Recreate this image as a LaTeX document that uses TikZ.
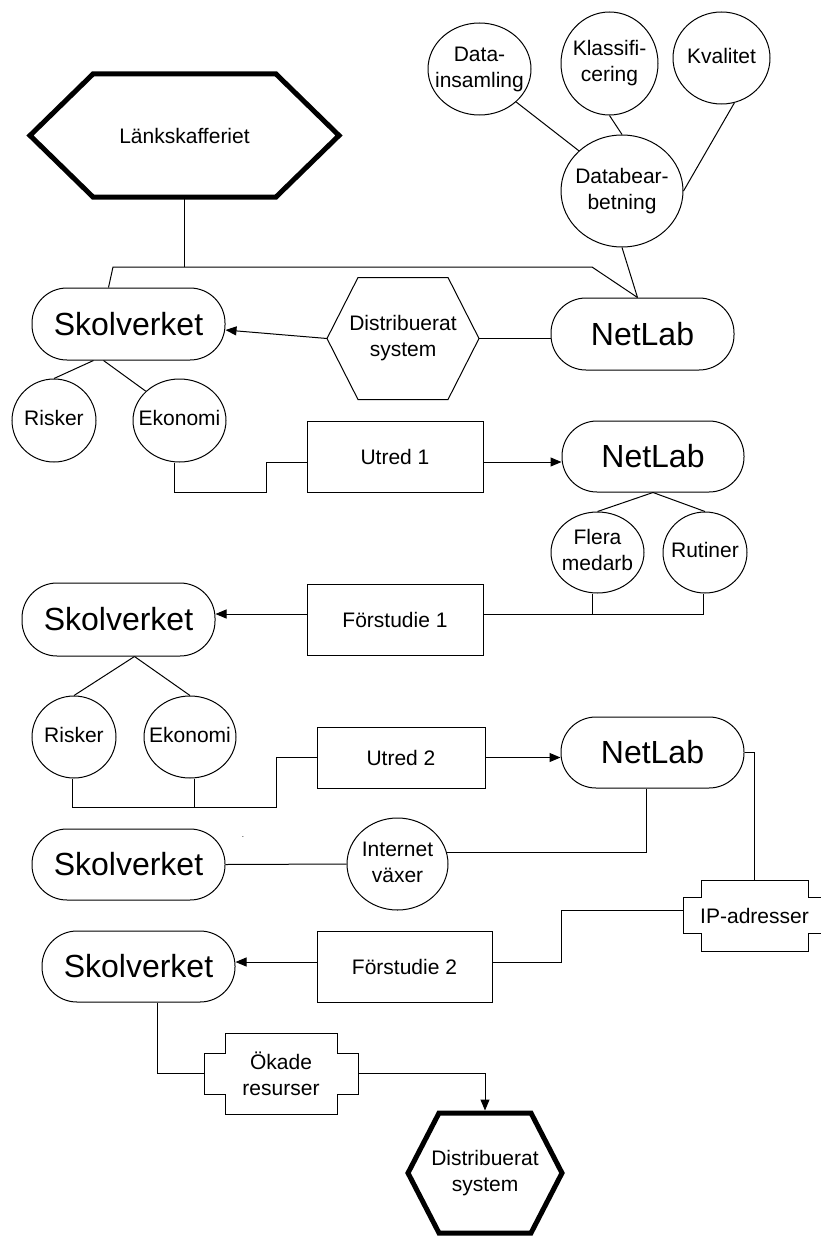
\documentclass[tikz,border=0pt]{standalone}
\usepackage{fontspec}
\setmainfont{Liberation Sans}
\usetikzlibrary{arrows.meta,shapes.geometric}
\newcommand\txtsmall{\fontsize{21}{26}\selectfont}
\newcommand\txtbig{\fontsize{32}{38}\selectfont}
\newcommand\ovaltext[1]{\makebox[0pt]{\begin{tabular}{@{}c@{}}#1\end{tabular}}}
% hexagon round a node: node, slant, style
\newcommand\hexoutline[3]{%
  \draw[#3] (#1.west) -- ([xshift=#2]#1.north west) -- ([xshift=-#2]#1.north east)
    -- (#1.east) -- ([xshift=-#2]#1.south east) -- ([xshift=#2]#1.south west) -- cycle;}
% box with side arms round a node: node, arm width, arm offset, style
\newcommand\crossoutline[4]{%
  \draw[#4] ([xshift=#2]#1.north west) -- ([xshift=-#2]#1.north east)
    -- ([xshift=-#2,yshift=-#3]#1.north east) -- ([yshift=-#3]#1.north east)
    -- ([yshift=#3]#1.south east) -- ([xshift=-#2,yshift=#3]#1.south east)
    -- ([xshift=-#2]#1.south east) -- ([xshift=#2]#1.south west)
    -- ([xshift=#2,yshift=#3]#1.south west) -- ([yshift=#3]#1.south west)
    -- ([yshift=-#3]#1.north west) -- ([xshift=#2,yshift=-#3]#1.north west) -- cycle;}

\begin{document}
\begin{tikzpicture}[x=1pt,y=-1pt,line width=1pt,
    org/.style={draw,rounded corners=35pt,minimum width=193pt,minimum height=72pt,inner sep=0pt,font=\txtbig},
    topic/.style={draw,ellipse,inner sep=0pt,font=\txtsmall},
    task/.style={draw,minimum width=176pt,minimum height=71pt,inner sep=0pt,font=\txtsmall},
    hexnode/.style={inner sep=0pt,outer sep=0pt,align=center,font=\txtsmall},
    crossnode/.style={inner sep=0pt,outer sep=0pt,align=center,font=\txtsmall},
    flow/.style={-{Triangle[length=11pt,width=9pt]}},
    heavy/.style={line width=5pt}]
  \useasboundingbox (0,0) rectangle (821,1236);

  \node[hexnode,minimum width=309pt,minimum height=123pt] (lank) at (184.5,135.5) {Länkskafferiet};
  \hexoutline{lank}{63pt}{heavy}

  \node[topic,minimum width=103pt,minimum height=92pt] (dins) at (479.5,69) {\ovaltext{Data-\\insamling}};
  \node[topic,minimum width=97pt,minimum height=103pt] (kla) at (609.5,63.5) {\ovaltext{Klassifi-\\cering}};
  \node[topic,minimum width=97pt,minimum height=92pt] (kva) at (721.5,58) {\ovaltext{Kvalitet}};
  \node[topic,minimum width=122pt,minimum height=112pt] (dbb) at (622,191) {\ovaltext{Databear-\\betning}};

  \node[org] (skol1) at (128.5,324) {Skolverket};
  \node[hexnode,minimum width=152pt,minimum height=122pt] (dist1) at (403,338.5) {Distribuerat\\system};
  \hexoutline{dist1}{31pt}{}
  \node[org,minimum width=183pt] (net1) at (642.5,334) {NetLab};

  \node[topic,minimum width=84pt,minimum height=83pt] (risk1) at (54,420.5) {\ovaltext{Risker}};
  \node[topic,minimum width=93pt,minimum height=83pt] (eko1) at (179.5,420.5) {\ovaltext{Ekonomi}};
  \node[task] (utr1) at (395,456.5) {Utred 1};
  \node[org,minimum width=182pt,minimum height=71pt] (net2) at (653,456.5) {NetLab};

  \node[topic,minimum width=93pt,minimum height=81pt] (flera) at (597.5,552.5) {\ovaltext{Flera\\medarb}};
  \node[topic,minimum width=84pt,minimum height=81pt] (rut) at (705,552.5) {\ovaltext{Rutiner}};
  \node[task] (for1) at (395,619.5) {Förstudie 1};
  \node[org,minimum height=73pt] (skol2) at (118.5,619.5) {Skolverket};

  \node[topic,minimum width=84pt,minimum height=82pt] (risk2) at (74,737) {\ovaltext{Risker}};
  \node[topic,minimum width=92pt,minimum height=82pt] (eko2) at (190,737) {\ovaltext{Ekonomi}};
  \node[task,minimum width=168pt,minimum height=61pt] (utr2) at (401,757.5) {Utred 2};
  \node[org,minimum width=183pt,minimum height=71pt] (net3) at (652.5,752.5) {NetLab};

  \node[org,minimum height=71pt] (skol3) at (128.5,864.5) {Skolverket};
  \node[inner sep=0pt,font=\fontsize{8}{8}\selectfont] (speck) at (243,837) {.};
  \node[topic,minimum width=101pt,minimum height=92pt] (inet) at (397.5,864) {\ovaltext{Internet\\växer}};
  \node[crossnode,minimum width=143pt,minimum height=71pt] (ip) at (754.5,915.5) {IP-adresser};
  \crossoutline{ip}{18pt}{17.5pt}{}

  \node[org,minimum height=71pt] (skol4) at (138.5,966.5) {Skolverket};
  \node[task,minimum width=175pt] (for2) at (404.5,966.5) {Förstudie 2};
  \node[crossnode,minimum width=154pt,minimum height=81pt] (oka) at (281,1073.5) {Ökade\\resurser};
  \crossoutline{oka}{21pt}{20pt}{}
  \node[hexnode,minimum width=154pt,minimum height=120pt] (dist2) at (485,1173) {Distribuerat\\system};
  \hexoutline{dist2}{31pt}{heavy}

  % connectors
  \coordinate (busL) at (113,267);
  \coordinate (busR) at (592,267);
  \draw ([xshift=-20pt]skol1.north) -- (busL) -- (busR) -- ([xshift=-5pt]net1.north);
  \draw (lank.south) -- (lank.south |- busL);
  \draw (dins.-42) -- (dbb.137);
  \draw (kla.south) -- (dbb.north);
  \draw (kva.-74) -- (dbb.east);
  \draw (dbb.south) -- ([xshift=-5pt]net1.north);
  \draw[flow] (dist1.west) -- ([yshift=-6pt]skol1.east);
  \draw (dist1.east) -- (dist1.east -| net1.west);
  \draw ([xshift=-35pt]skol1.south) -- (risk1.north);
  \draw ([xshift=-25pt]skol1.south) -- (eko1.139);
  \draw ([xshift=-5pt]eko1.south) -- ++(0,30) -- ++(92,0) |- ([yshift=-5.5pt]utr1.west);
  \draw[flow] ([yshift=-5.5pt]utr1.east) -- ([yshift=-5.5pt]net2.west);
  \draw (net2.south) -- (flera.north);
  \draw (net2.south) -- (rut.north);
  \coordinate (j1) at ([yshift=5.5pt]for1.east);
  \draw ([xshift=-5pt]flera.south) -- ([xshift=-5pt]flera.south |- j1);
  \draw ([xshift=-2pt]rut.south) |- (j1);
  \draw[flow] ([yshift=5.5pt]for1.west) -- ([yshift=5.5pt]skol2.east);
  \draw ([xshift=16pt]skol2.south) -- (risk2.north);
  \draw ([xshift=16pt]skol2.south) -- (eko2.north);
  \coordinate (j2) at (276,807);
  \draw ([xshift=-2pt]risk2.south) |- (j2) |- (utr2.west);
  \draw ([xshift=4pt]eko2.south) -- ([xshift=4pt]eko2.south |- j2);
  \draw[flow] (utr2.east) -- (utr2.east -| net3.west);
  \draw (net3.east) -| (ip.north);
  \draw ([xshift=-6.5pt]net3.south) |- (inet.13);
  \draw (skol3.east) -- (inet.west);
  \draw[flow] ([yshift=4.5pt]for2.west) -- ([yshift=4.5pt]skol4.east);
  \draw ([yshift=4.5pt]for2.east) -- ++(69,0) |- ([yshift=5.5pt]ip.west);
  \draw ([xshift=18.5pt]skol4.south) |- (oka.west);
  \draw[flow,shorten >=2.5pt] (oka.east) -| (dist2.north);
\end{tikzpicture}
\end{document}
